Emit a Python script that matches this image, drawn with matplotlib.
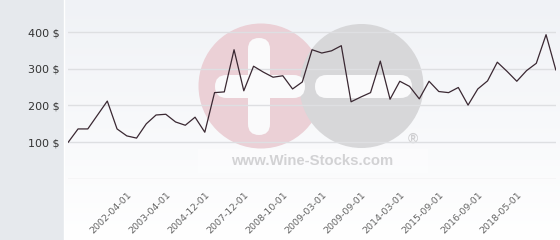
import numpy as np
import matplotlib
matplotlib.use("Agg")
import matplotlib.pyplot as plt
from matplotlib.patches import Circle, FancyBboxPatch

# price per point
prices = [100, 136, 136, 174, 212, 136, 117, 111, 150, 174,
          176, 155, 146, 168, 127, 235, 237, 352, 240, 307,
          291, 277, 281, 245, 264, 352, 343, 349, 363, 210,
          223, 235, 321, 217, 266, 252, 218, 266, 238, 235,
          249, 201, 245, 267, 318, 293, 266, 295, 315, 393, 297]

tick_pos = [6, 10, 14, 18, 22, 26, 30, 34, 38, 42, 46]
tick_dates = ['2002-04-01', '2003-04-01', '2004-12-01', '2007-12-01',
              '2008-10-01', '2009-03-01', '2009-09-01', '2014-03-01',
              '2015-09-01', '2016-09-01', '2018-05-01']
y_ticks = [100, 200, 300, 400]
y_labels = [f"{v} $" for v in y_ticks]

W, H = 560, 240
fig = plt.figure(figsize=(W / 100, H / 100), dpi=100, facecolor='#e6e9ed')

# background panel with the watermark, in pixel coordinates
bg = fig.add_axes([0, 0, 1, 1], zorder=0)
bg.set_xlim(0, W)
bg.set_ylim(H, 0)
bg.axis('off')
grad = np.linspace(0, 1, 256).reshape(-1, 1)
top = np.array([0xf0, 0xf2, 0xf6]) / 255
bot = np.array([1.0, 1.0, 1.0])
img = top + (bot - top) * grad[:, :, None]
bg.imshow(img, extent=[64, W, H, 0], aspect='auto', zorder=0)
bg.plot([63.5, 63.5], [0, H], color='white', lw=1, zorder=1)

bg.add_patch(FancyBboxPatch((198, 149), 230, 24, boxstyle='square,pad=0',
                            fc='white', ec='none', alpha=0.35, zorder=1))
bg.add_patch(Circle((261, 86), 62.5, fc='#ebd0d6', ec='none', zorder=2))
bg.add_patch(Circle((361.5, 86), 62, fc='#d7d7d9', ec='none', zorder=3))
bg.add_patch(FancyBboxPatch((215, 75), 90, 23,
                            boxstyle='round,pad=0,rounding_size=11.5',
                            fc='#fafafb', ec='none', zorder=4))
bg.add_patch(FancyBboxPatch((248, 38), 22, 97,
                            boxstyle='round,pad=0,rounding_size=11',
                            fc='#fafafb', ec='none', zorder=4))
bg.add_patch(FancyBboxPatch((315, 75), 97, 23,
                            boxstyle='round,pad=0,rounding_size=11.5',
                            fc='#fafafb', ec='none', zorder=4))
bg.text(312.5, 161, 'www.Wine-Stocks.com', family='Liberation Sans',
        weight='bold', fontsize=10.7, color='#d2d2d4',
        ha='center', va='center', zorder=5)
bg.text(413, 139, '®', family='Liberation Sans', weight='bold',
        fontsize=10, color='#cfcfd1', ha='center', va='center', zorder=5)

# main chart
px = 0.3667  # pixels per dollar
y0 = 178.8
ymax = 440
left, right = 68.3, 555.8
ax = fig.add_axes([left / W, (H - y0) / H, (right - left) / W, ymax * px / H],
                  zorder=1)
ax.patch.set_visible(False)
for s in ax.spines.values():
    s.set_visible(False)

for v in [0] + y_ticks:
    ax.axhline(v, color='#dedfe2', lw=1, zorder=1)

x = np.arange(len(prices))
ax.plot(x, prices, color='#3a2832', lw=0.9, zorder=3)
ax.set_xlim(0, len(prices) - 1)
ax.set_ylim(0, ymax)

ax.set_yticks(y_ticks)
ax.set_yticklabels(y_labels, fontsize=8, color='#333333')
ax.tick_params(axis='y', length=0, pad=6.5)

ax.set_xticks(tick_pos)
ax.set_xticklabels(tick_dates, rotation=45, ha='right',
                   rotation_mode='anchor', fontsize=6.8, color='#666666')
ax.tick_params(axis='x', length=0, pad=8)

fig.savefig('out.png', dpi=100, facecolor=fig.get_facecolor())
